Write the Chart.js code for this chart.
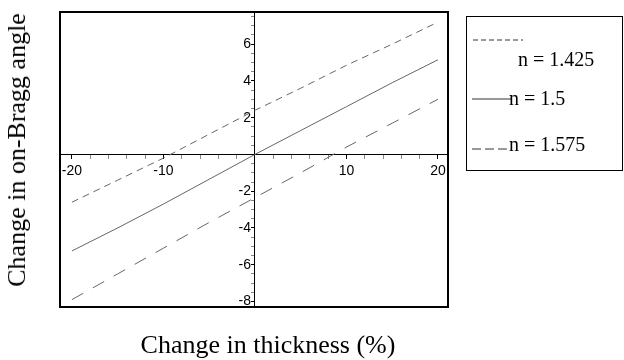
<!DOCTYPE html>
<html>
<head>
<meta charset="utf-8">
<script src="https://cdn.jsdelivr.net/npm/chart.js@4"></script>
<style>
    body { margin: 0; background: #fff; }
    #wrap { position: relative; width: 624px; height: 360px; font-family: "Liberation Serif", "Times New Roman", serif; color: #000; }
    #myChart { position: absolute; left: 0; top: 0; }
    .title { position: absolute; font-size: 26px; white-space: nowrap; line-height: 1; }
    #xtitle { left: 268px; top: 345px; transform: translate(-50%, -50%); }
    #ytitle { left: 17px; top: 150px; transform: translate(-50%, -50%) rotate(-90deg); }
    #legend { position: absolute; left: 466px; top: 16px; width: 155px; height: 153px; border: 1px solid #000; }
    .entry svg { position: absolute; overflow: visible; }
    .entry span { position: absolute; font-size: 20px; line-height: 1; white-space: nowrap; transform: translateY(-50%); }
</style>
</head>
<body>
<div id="wrap">
    <canvas id="myChart" width="624" height="360"></canvas>
    <div class="title" id="ytitle">Change in on-Bragg angle</div>
    <div class="title" id="xtitle">Change in thickness (%)</div>
    <div id="legend"></div>
</div>
<script>
// Valeurs
const thickness = [-20, -15, -10, -5, 0, 5, 10, 15, 20];
const angle1425 = [-2.6, -1.4, -0.2, 1.1, 2.4, 3.6, 4.85, 6.0, 7.2];
const angle1500 = [-5.25, -4.0, -2.7, -1.35, 0, 1.3, 2.6, 3.9, 5.15];
const angle1575 = [-7.9, -6.5, -5.1, -3.7, -2.35, -1.0, 0.4, 1.7, 3.0];

const seriesLabels = ["n = 1.425", "n = 1.5", "n = 1.575"];
const seriesValues = [angle1425, angle1500, angle1575];
const seriesDash = [[7, 5], [], [13, 11]];
const legendDash = [[5, 3], [], [9, 4]];

const xLabels = [-20, -10, 10, 20];
const yLabels = [-8, -6, -4, -2, 2, 4, 6];

const toPoints = (ys) => thickness.map((x, i) => ({x: x, y: ys[i]}));

let data = {
    datasets: seriesValues.map((ys, i) => ({
        label: seriesLabels[i],
        data: toPoints(ys),
        showLine: true,
        borderColor: "#666",
        borderWidth: 1,
        borderDash: seriesDash[i],
        pointRadius: 0,
        tension: 0,
    }))
};

// Cadre autour de la zone du graphique
const framePlugin = {
    id: "frame",
    afterDraw: (chart) => {
        const a = chart.chartArea;
        const c = chart.ctx;
        c.save();
        c.strokeStyle = "#000";
        c.lineWidth = 2;
        c.strokeRect(a.left, a.top, a.right - a.left, a.bottom - a.top);
        c.restore();
    }
};

const tickFont = {family: "'Liberation Sans', Arial, sans-serif", size: 14};

let options = {
    responsive: false,
    animation: false,
    layout: {padding: {left: 60, top: 12, right: 176, bottom: 53}},
    plugins: {legend: {display: false}, tooltip: {enabled: false}},
    scales: {
        x: {
            type: "linear",
            min: -21.3,
            max: 21.1,
            position: {y: 0},
            border: {display: true, color: "#000", width: 1},
            grid: {
                drawOnChartArea: false,
                tickLength: 4,
                tickColor: (ctx) => xLabels.includes(ctx.tick.value) ? "#000" : "#888",
            },
            ticks: {
                stepSize: 2,
                includeBounds: false,
                autoSkip: false,
                maxRotation: 0,
                padding: 4,
                color: "#000",
                font: tickFont,
                callback: (v) => xLabels.includes(v) ? String(v) : "",
            }
        },
        y: {
            type: "linear",
            min: -8.3,
            max: 7.75,
            position: {x: 0},
            border: {display: true, color: "#000", width: 1},
            grid: {
                drawOnChartArea: false,
                tickLength: 3,
                tickColor: (ctx) => yLabels.includes(ctx.tick.value) ? "#000" : "#888",
            },
            ticks: {
                stepSize: 0.5,
                includeBounds: false,
                autoSkip: false,
                padding: 1,
                color: "#000",
                font: tickFont,
                // l'espace final éloigne le chiffre de l'axe
                callback: (v) => yLabels.includes(v) ? String(v) + " " : "",
            }
        }
    }
};

let config = {
    type: "scatter",
    data: data,
    options: options,
    plugins: [framePlugin],
};

const ctx = document.getElementById("myChart").getContext("2d");
let graphic = new Chart(ctx, config);

// Légende faite à la main, placée comme sur la figure
const legendBox = document.getElementById("legend");
const legendPos = [
    {x1: 6, x2: 56, ly: 23, tx: 51, ty: 42},
    {x1: 5, x2: 44, ly: 82, tx: 42, ty: 81},
    {x1: 5, x2: 42, ly: 132, tx: 42, ty: 127},
];
seriesLabels.forEach((label, i) => {
    const p = legendPos[i];
    const entry = document.createElement("div");
    entry.className = "entry";
    entry.innerHTML =
        '<svg width="1" height="1" style="left:0;top:0">' +
        '<line x1="' + p.x1 + '" y1="' + p.ly + '" x2="' + p.x2 + '" y2="' + p.ly + '" stroke="#333" stroke-width="1"' +
        (legendDash[i].length ? ' stroke-dasharray="' + legendDash[i].join(",") + '"' : '') + '/></svg>' +
        '<span style="left:' + p.tx + 'px;top:' + p.ty + 'px">' + label + '</span>';
    legendBox.appendChild(entry);
});
</script>
</body>
</html>
